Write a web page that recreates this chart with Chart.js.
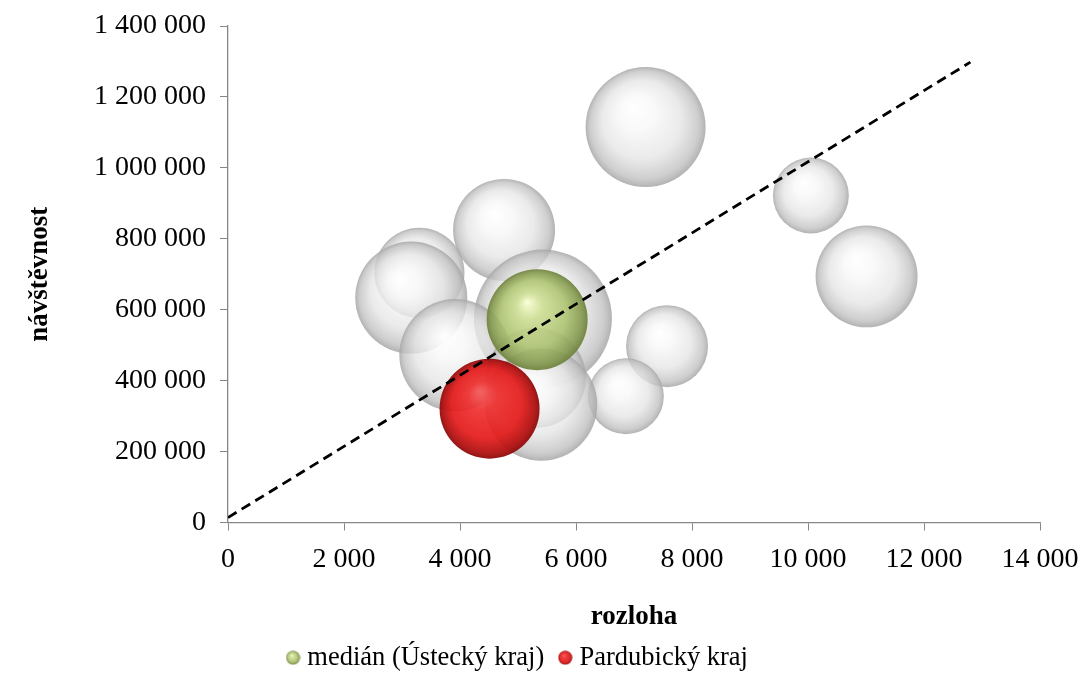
<!DOCTYPE html>
<html><head><meta charset="utf-8">
<script src="https://cdn.jsdelivr.net/npm/chart.js@4.4.1/dist/chart.umd.min.js"></script>
<style>html,body{margin:0;padding:0;background:#fff}</style>
</head><body>
<canvas id="c" width="1083" height="681"></canvas>
<script>
// ---- data ----
const kraje = ['Jihomoravský', 'Jihočeský', 'Středočeský', 'Královéhradecký', 'Karlovarský', 'Liberecký',
               'Moravskoslezský', 'Zlínský', 'Plzeňský', 'Vysočina', 'Olomoucký', 'kraj B'];
const rozloha     = [7200, 10050, 11010, 4760, 3300, 3160, 5430, 3920, 7570, 6860, 5310, 5400];
const navstevnost = [1115000, 922000, 694000, 825000, 704000, 634000, 575000, 472000, 497000, 356000, 408000, 332000];
const velikost    = [36, 14.4, 26, 26, 20.3, 31.4, 47.6, 31.4, 16.8, 14.4, 25, 31.4];

const medianX = [5330], medianY = [572000], medianSize = [25.5];
const pardX = [4510], pardY = [321000], pardSize = [25];

const trendX = [0, 12800];
const trendY = [14000, 1298000];

const xMin = 0, xMax = 14000, xStep = 2000;
const yMin = 0, yMax = 1400000, yStep = 200000;

const labels = ['medián (Ústecký kraj)', 'Pardubický kraj'];
const titleX = 'rozloha', titleY = 'návštěvnost';

// ---- helpers ----
const FONT = "'Liberation Serif', 'Times New Roman', serif";
Chart.defaults.font.family = FONT;
Chart.defaults.color = '#000';
const fmt = v => String(v).replace(/\B(?=(\d{3})+(?!\d))/g, ' ');
const toR = s => Math.sqrt(s) * 10;

const palettes = {
  gray:  [[0,'rgba(255,255,255,1)'],[0.3,'rgba(248,248,248,0.85)'],[0.65,'rgba(228,228,228,0.75)'],[0.9,'rgba(192,192,192,0.78)'],[1,'rgba(165,165,165,0.85)']],
  green: [[0,'rgba(250,255,215,0.95)'],[0.25,'rgba(205,222,148,0.9)'],[0.65,'rgba(172,194,110,0.88)'],[0.9,'rgba(132,152,78,0.9)'],[1,'rgba(108,128,58,0.92)']],
  red:   [[0,'rgba(245,95,95,0.95)'],[0.3,'rgba(238,45,45,0.92)'],[0.7,'rgba(228,25,25,0.92)'],[0.92,'rgba(175,15,15,0.94)'],[1,'rgba(140,10,10,0.95)']]
};
function sphere(ctx2d, cx, cy, r, pal) {
  const g = ctx2d.createRadialGradient(cx - 0.2*r, cy - 0.35*r, 0, cx, cy, r);
  palettes[pal].forEach(([o,c]) => g.addColorStop(o, c));
  return g;
}
function bubbleFill(pal, fallback) {
  return function(context) {
    const chart = context.chart;
    const xs = chart.scales && chart.scales.x, ys = chart.scales && chart.scales.y;
    const raw = context.raw;
    if (!xs || !ys || !raw) return fallback;
    const cx = xs.getPixelForValue(raw.x), cy = ys.getPixelForValue(raw.y), r = raw.r;
    if (![cx, cy, r].every(Number.isFinite) || r <= 0) return fallback;
    return sphere(chart.ctx, cx, cy, r, pal);
  };
}
function legendIcon(pal) {
  const cv = document.createElement('canvas');
  cv.width = 15; cv.height = 15;
  const c = cv.getContext('2d');
  c.beginPath(); c.arc(7.5, 7.5, 7, 0, Math.PI*2);
  c.fillStyle = sphere(c, 7.5, 7.5, 7, pal); c.fill();
  return cv;
}
const iconGreen = legendIcon('green'), iconRed = legendIcon('red');

const grayData = rozloha.map((x, i) => ({x, y: navstevnost[i], r: toR(velikost[i])}));
const medData = medianX.map((x, i) => ({x, y: medianY[i], r: toR(medianSize[i])}));
const pardData = pardX.map((x, i) => ({x, y: pardY[i], r: toR(pardSize[i])}));
const trendData = trendX.map((x, i) => ({x, y: trendY[i]}));

new Chart(document.getElementById('c'), {
  type: 'bubble',
  data: {
    datasets: [
      { type: 'line', label: 'trend', data: trendData, borderColor: '#000', borderWidth: 2.8,
        borderDash: [10, 6], pointRadius: 0, fill: false, order: 0 },
      { label: labels[1], data: pardData, backgroundColor: bubbleFill('red', 'rgb(230,30,30)'), borderWidth: 0, order: 1 },
      { label: labels[0], data: medData, backgroundColor: bubbleFill('green', 'rgb(170,192,105)'), borderWidth: 0, order: 2 },
      { label: 'kraje', data: grayData, backgroundColor: bubbleFill('gray', 'rgba(220,220,220,0.7)'), borderWidth: 0, order: 3 }
    ]
  },
  options: {
    responsive: false,
    animation: false,
    events: [],
    layout: { autoPadding: false, padding: { left: 0, right: 43, top: 26, bottom: 0 } },
    scales: {
      x: {
        type: 'linear', min: xMin, max: xMax,
        ticks: { stepSize: xStep, callback: v => fmt(v), font: { size: 28 }, padding: 12, maxRotation: 0, color: '#000' },
        grid: { display: true, drawOnChartArea: false, drawTicks: true, tickLength: 8, color: '#868686' },
        border: { display: true, color: '#868686', width: 1.3 },
        title: { display: true, text: titleX, font: { size: 27, weight: 'bold', lineHeight: 1 }, color: '#000', padding: { top: 0, bottom: -6 } },
        afterFit: s => { s.height = 102; s.paddingLeft = 0; s.paddingRight = 0; }
      },
      y: {
        type: 'linear', min: yMin, max: yMax,
        ticks: { stepSize: yStep, callback: v => fmt(v), font: { size: 28 }, padding: 14, color: '#000' },
        grid: { display: true, drawOnChartArea: false, drawTicks: true, tickLength: 8, color: '#868686' },
        border: { display: true, color: '#868686', width: 1.3 },
        title: { display: true, text: titleY, font: { size: 27, weight: 'bold' }, color: '#000', padding: { top: 24, bottom: 0 } },
        afterFit: s => { s.width = 228; s.paddingTop = 0; s.paddingBottom = 0; }
      }
    },
    plugins: {
      tooltip: { enabled: false },
      legend: {
        position: 'bottom',
        labels: {
          usePointStyle: true, boxWidth: 2, boxHeight: 14, padding: 20,
          font: { size: 26.5 }, color: '#000',
          generateLabels: () => [
            { text: labels[0], pointStyle: iconGreen, fillStyle: 'rgb(170,192,105)', strokeStyle: 'rgba(0,0,0,0)', lineWidth: 0, datasetIndex: 2, hidden: false },
            { text: labels[1], pointStyle: iconRed, fillStyle: 'rgb(230,30,30)', strokeStyle: 'rgba(0,0,0,0)', lineWidth: 0, datasetIndex: 1, hidden: false }
          ]
        }
      }
    }
  }
});
</script>
</body></html>
